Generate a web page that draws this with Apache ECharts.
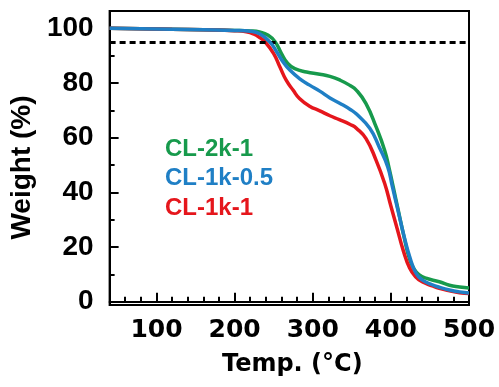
<!DOCTYPE html>
<html>
<head>
<meta charset="utf-8">
<script src="https://cdn.jsdelivr.net/npm/echarts@6/dist/echarts.min.js"></script>
<style>
  html, body { margin: 0; padding: 0; background: #fff; }
  #chart { width: 499px; height: 387px; }
</style>
</head>
<body>
<div id="chart"></div>
<script>
// TGA curves: [temperature (°C), weight (%)]
const seriesNames = ['CL-2k-1', 'CL-1k-0.5', 'CL-1k-1'];
const seriesColors = ['#179a4c', '#1f7fc5', '#e5161c'];

const cl2k1 = [
  [40, 100], [80, 99.8], [120, 99.6], [160, 99.4], [200, 99.2], [220, 99],
  [232, 98.6], [243, 97.4], [252, 95], [260, 90.7], [268, 87.1], [277, 85.2],
  [292, 84], [309, 83.2], [322, 82.4], [335, 81], [347, 79.2], [356, 77.3],
  [368, 72.5], [381, 64], [392, 55.4], [398, 48.5], [403, 42], [409, 34],
  [417, 23.5], [424, 15.5], [430, 11.8], [436, 9.9], [445, 8.6], [462, 7.3],
  [475, 6.0], [488, 5.4], [500, 5.0]
];
const cl1k05 = [
  [40, 100], [80, 99.8], [120, 99.6], [160, 99.4], [200, 99.2], [220, 98.9],
  [232, 98], [245, 95], [254, 91.3], [262, 87.7], [271, 84.6], [283, 81.6],
  [296, 79.2], [309, 77], [322, 74.5], [335, 72.5], [348, 70.3], [356, 68.6],
  [373, 63.4], [385, 56.6], [396, 49.3], [402, 42], [409, 33.5], [417, 23.8],
  [424, 16.5], [432, 10.5], [440, 8], [453, 6.2], [462, 5.3], [475, 4.3],
  [488, 3.6], [500, 3.2]
];
const cl1k1 = [
  [40, 100], [80, 99.8], [120, 99.6], [160, 99.4], [200, 99.1], [215, 98.7],
  [225, 97.8], [232, 96.6], [239, 95], [250, 90.7], [258, 85.8], [266, 81],
  [275, 77.3], [283, 74.3], [296, 71.5], [309, 69.8], [322, 68], [334, 66.6],
  [348, 64.8], [356, 63.4], [368, 59.7], [381, 51.8], [392, 43.3], [400, 35],
  [408, 26.8], [416, 18.6], [424, 12.3], [432, 9], [440, 7.3], [453, 5.8],
  [462, 4.9], [475, 4], [488, 3.3], [500, 3.0]
];

// 95 % weight reference level
const threshold = 95;

// Axis ticks and labels
const xMajor = [100, 200, 300, 400, 500];
const xMinor = [60, 80, 120, 140, 160, 180, 220, 240, 260, 280, 320, 340, 360, 380, 420, 440, 460, 480];
const yMajor = [0, 20, 40, 60, 80, 100];
const yMinor = [10, 30, 50, 70, 90];

const black = '#000';
const sansX = 'DejaVu Sans';
const sansY = 'Liberation Sans';

const chart = echarts.init(document.getElementById('chart'), null, { renderer: 'canvas' });

const xBase = {
  type: 'value', min: 40, max: 500, position: 'bottom',
  splitLine: { show: false }
};
const yBase = {
  type: 'value', min: -1.2, max: 106.3, position: 'left',
  splitLine: { show: false }
};

function curve(idx, data, z) {
  return {
    name: seriesNames[idx], type: 'line', data: data,
    smooth: 0.5, showSymbol: false,
    lineStyle: { color: seriesColors[idx], width: 3.5 },
    itemStyle: { color: seriesColors[idx] }, z: z
  };
}

chart.setOption({
  animation: false,
  backgroundColor: '#fff',
  grid: {
    left: 109, right: 30, top: 11, bottom: 82,
    show: true, borderColor: black, borderWidth: 2, backgroundColor: 'transparent'
  },
  legend: {
    orient: 'vertical', left: 155, top: 132,
    icon: 'none', itemWidth: 0, itemHeight: 24, itemGap: 5.5,
    selectedMode: false,
    textStyle: { fontFamily: sansY, fontWeight: 'bold', fontSize: 24 },
    data: seriesNames.map((n, i) => ({ name: n, textStyle: { color: seriesColors[i] } }))
  },
  xAxis: [
    Object.assign({}, xBase, {
      name: 'Temp. (°C)', nameLocation: 'middle', nameGap: 48,
      nameTextStyle: { fontFamily: sansX, fontWeight: 'bold', fontSize: 24, color: black, padding: [0, 0, 0, 6] },
      axisLine: { show: true, lineStyle: { color: black, width: 2 } },
      axisTick: { show: true, inside: true, length: 9, customValues: xMajor, lineStyle: { color: black, width: 2 } },
      axisLabel: { show: true, customValues: xMajor, margin: 13, fontFamily: sansX, fontWeight: 'bold', fontSize: 25, color: black }
    }),
    Object.assign({}, xBase, {
      axisLine: { show: false },
      axisTick: { show: true, inside: true, length: 5, customValues: xMinor, lineStyle: { color: black, width: 2 } },
      axisLabel: { show: false }
    })
  ],
  yAxis: [
    Object.assign({}, yBase, {
      name: 'Weight (%)', nameLocation: 'middle', nameGap: 68,
      nameTextStyle: { fontFamily: sansY, fontWeight: 'bold', fontSize: 28, color: black, padding: [0, 19, 0, 0] },
      axisLine: { show: true, lineStyle: { color: black, width: 2 } },
      axisTick: { show: true, inside: true, length: 9, customValues: yMajor, lineStyle: { color: black, width: 2 } },
      axisLabel: { show: true, customValues: yMajor, margin: 16, fontFamily: sansY, fontWeight: 'bold', fontSize: 28, color: black }
    }),
    Object.assign({}, yBase, {
      axisLine: { show: false },
      axisTick: { show: true, inside: true, length: 5, customValues: yMinor, lineStyle: { color: black, width: 2 } },
      axisLabel: { show: false }
    })
  ],
  series: [
    {
      name: 'threshold', type: 'line', data: [], silent: true,
      markLine: {
        silent: true, symbol: 'none', label: { show: false },
        lineStyle: { color: black, width: 3, type: [6, 4] },
        data: [{ yAxis: threshold }]
      }
    },
    curve(0, cl2k1, 3),
    curve(2, cl1k1, 4),
    curve(1, cl1k05, 5)
  ]
});
</script>
</body>
</html>
